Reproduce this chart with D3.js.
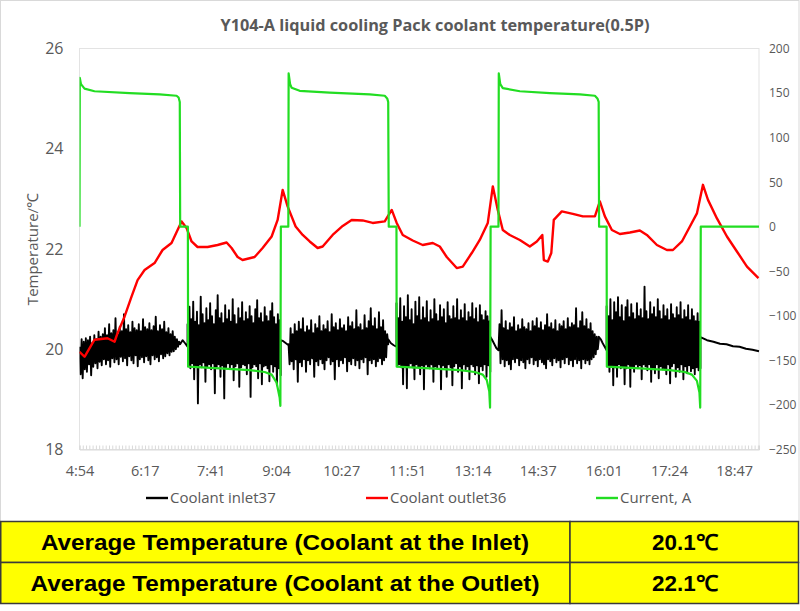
<!DOCTYPE html>
<html><head><meta charset="utf-8">
<script src="https://cdn.jsdelivr.net/npm/d3@7"></script>
<style>body{margin:0;background:#fff}svg{display:block}</style>
</head><body><svg id="c" width="800" height="611"></svg>
<script>
const chartTitle = "Y104-A liquid cooling Pack coolant temperature(0.5P)";
const yAxisTitle = "Temperature/℃";
const xTickLabels = ["4:54","6:17","7:41","9:04","10:27","11:51","13:14","14:37","16:01","17:24","18:47"];
const leftTicks = [18,20,22,24,26];
const rightTicks = [-250,-200,-150,-100,-50,0,50,100,150,200];
const seriesNames = ["Coolant inlet37","Coolant outlet36","Current, A"];
const timeStart = 294, timeEnd = 1158.6; // minutes of day

// inlet temperature: segment boundaries (minutes) and readings per segment
const inletBreaks = [294, 422, 431.5, 550, 560, 686.8, 697.3, 816.7, 827.1, 954.8, 964.7, 1084.1, 1158.6];
const inletCharge1 = [20.05,19.50,20.20,19.42,20.15,19.60,20.22,19.55,20.18,19.70,20.25,19.48,20.12,19.65,20.28,19.72,20.20,19.62,20.35,19.75,
20.25,19.68,20.30,19.80,20.42,19.70,20.28,19.78,20.50,19.65,20.32,19.82,20.38,19.74,20.62,19.80,20.30,19.70,20.45,19.85,
20.36,19.76,20.70,19.82,20.40,19.68,20.48,19.86,20.34,19.78,20.55,19.72,20.42,19.88,20.38,19.66,20.50,19.80,20.36,19.84,
20.60,19.74,20.44,19.86,20.40,19.78,20.52,19.70,20.38,19.88,20.46,19.80,20.65,19.84,20.36,19.76,20.48,19.90,20.40,19.82,
20.55,19.86,20.34,19.92,20.42,19.88,20.30,19.95,20.36,19.96,20.25,20.00,20.20,20.05,20.15,20.10];
const inletRest1 = [20.10,20.18,20.12,20.05];
const inletDischarge1 = [20.50,19.68,20.85,19.62,20.60,19.72,20.95,19.40,20.55,19.66,20.75,18.92,20.48,19.70,21.05,19.64,20.70,19.74,20.52,19.35,
20.82,19.66,20.58,19.70,20.92,19.60,20.66,19.72,20.50,19.12,20.78,19.65,21.08,19.70,20.62,19.45,20.72,19.68,20.52,19.02,
20.88,19.64,20.60,19.72,20.78,19.62,20.55,19.70,21.00,19.38,20.68,19.66,20.50,19.72,20.82,19.25,20.62,19.64,20.94,19.70,
20.56,19.68,20.74,19.50,20.60,19.72,20.86,19.05,20.66,19.64,20.52,19.70,20.80,19.66,20.98,19.42,20.62,19.72,20.72,19.30,
20.54,19.66,20.84,19.68,20.66,19.62,20.56,19.36,20.76,19.70,20.92,19.55,20.64,19.66,20.50,19.28,20.70,19.62,20.58,19.48];
const inletRest2 = [20.18,20.16,20.12,20.08];
const inletCharge2 = [20.10,19.70,20.42,19.76,20.30,19.60,20.50,19.80,20.36,19.35,20.55,19.74,20.40,19.66,20.62,19.80,20.34,19.55,20.46,19.78,
20.38,19.70,20.58,19.82,20.32,19.45,20.50,19.76,20.42,19.68,20.66,19.80,20.36,19.72,20.48,19.60,20.40,19.78,20.56,19.84,
20.34,19.70,20.70,19.76,20.44,19.40,20.52,19.80,20.38,19.66,20.60,19.78,20.42,19.72,20.48,19.84,20.36,19.56,20.64,19.76,
20.46,19.70,20.54,19.82,20.40,19.68,20.78,19.78,20.44,19.62,20.50,19.80,20.38,19.74,20.68,19.84,20.42,19.50,20.56,19.78,
20.82,19.72,20.46,19.80,20.62,19.66,20.40,19.76,20.74,19.82,20.44,19.70,20.58,19.78,20.36,19.84,20.30,20.10];
const inletRest3 = [20.20,20.12,20.08,20.05];
const inletDischarge2 = [20.92,19.66,20.62,19.70,21.02,19.64,20.55,19.30,20.86,19.68,20.64,19.22,21.08,19.66,20.58,19.72,20.80,19.64,20.50,19.40,
20.95,19.70,20.66,19.64,21.04,19.50,20.58,19.68,20.84,19.20,20.62,19.70,20.96,19.66,20.54,19.62,20.78,19.70,20.60,19.35,
21.00,19.66,20.70,19.62,20.56,19.70,20.88,19.20,20.64,19.68,20.80,19.64,20.52,19.45,20.94,19.70,20.66,19.64,20.60,19.28,
20.86,19.66,20.62,19.72,21.00,19.55,20.58,19.66,20.78,19.22,20.62,19.70,20.90,19.60,20.56,19.66,20.74,19.40,20.64,19.70,
20.92,19.66,20.60,19.50,20.82,19.68,20.54,19.32,20.88,19.66,20.68,19.58,20.58,19.70,20.76,19.45,20.66,19.68,20.56,19.55];
const inletRest4 = [20.25,20.18,20.10,20.02,19.98];
const inletCharge3 = [19.98,20.50,19.72,20.78,19.80,20.42,19.66,20.56,19.78,20.38,19.70,20.52,19.60,20.44,19.80,20.64,19.74,20.36,19.82,20.48,
19.68,20.40,19.78,20.60,19.74,20.44,19.62,20.40,19.80,20.52,19.72,20.36,19.84,20.56,19.70,20.46,19.78,20.62,19.66,20.42,
19.80,20.54,19.74,20.38,19.70,20.48,19.62,20.70,19.80,20.44,19.76,20.52,19.68,20.40,19.82,20.58,19.74,20.36,19.78,20.50,
19.64,20.46,19.80,20.56,19.72,20.40,19.84,20.62,19.70,20.44,19.78,20.52,19.66,20.48,19.80,20.82,19.72,20.42,19.78,20.56,
19.62,20.74,19.80,20.46,19.72,20.60,19.78,20.40,19.70,20.52,19.80,20.36,19.84,20.30,19.90,20.25,20.00,20.20];
const inletRest5 = [20.25,20.20,20.12,20.05,19.98];
const inletDischarge3 = [20.86,19.66,20.66,19.55,21.00,19.68,20.58,19.28,20.94,19.64,20.74,19.45,21.04,19.70,20.64,19.62,20.88,19.66,20.56,19.30,
20.84,19.62,20.98,19.70,20.64,19.25,20.90,19.66,20.72,19.55,20.60,19.70,20.92,19.62,20.66,19.68,20.80,19.40,20.62,19.70,
21.25,19.66,20.76,19.58,20.60,19.70,20.94,19.35,20.70,19.64,20.84,19.52,20.64,19.70,21.00,19.42,20.76,19.66,20.60,19.60,
20.88,19.62,20.66,19.50,20.80,19.70,20.58,19.32,20.90,19.66,20.70,19.72,20.62,19.45,20.84,19.64,20.68,19.55,20.94,19.70,
20.60,19.40,20.78,19.66,20.64,19.52,20.88,19.68,20.58,19.56,20.80,19.62,20.66,19.50,20.56,19.64,20.72,19.58,20.55,19.62];
const inletTail = [20.24,20.18,20.15,20.11,20.10,20.06,20.05,20.01,19.99,19.96];
const inletSegments = [inletCharge1,inletRest1,inletDischarge1,inletRest2,inletCharge2,inletRest3,inletDischarge2,inletRest4,inletCharge3,inletRest5,inletDischarge3,inletTail];

// outlet temperature
const outletTime = [294.0,300.4,313.1,329.7,338.6,342.4,351.3,360.2,367.9,376.8,389.5,399.7,411.1,418.8,423.9,430.2,436.6,444.2,457.0,469.7,481.2,487.5,495.2,501.5,516.8,527.0,538.5,546.1,552.5,558.8,569.0,578.0,586.9,597.0,603.4,616.1,628.9,640.3,654.3,667.1,682.4,691.3,697.6,705.3,718.0,730.7,743.5,752.4,761.3,774.0,781.7,793.1,803.3,813.5,819.9,826.2,832.6,841.5,854.3,867.0,875.9,882.9,884.8,889.9,894.3,897.5,907.7,921.7,934.5,949.8,956.1,962.5,971.4,981.6,994.3,1007.0,1015.9,1028.7,1041.4,1049.1,1060.5,1070.7,1079.6,1087.3,1093.7,1105.1,1117.8,1130.5,1143.3,1157.9];
const outletTemp = [19.95,19.85,20.19,20.22,20.15,20.32,20.65,21.05,21.38,21.58,21.72,21.98,22.12,22.38,22.55,22.42,22.15,22.04,22.04,22.08,22.13,22.02,21.84,21.78,21.84,22.02,22.25,22.58,23.18,22.85,22.45,22.28,22.15,22.02,22.05,22.28,22.46,22.58,22.57,22.52,22.55,22.78,22.52,22.28,22.17,22.08,22.12,22.05,21.84,21.62,21.65,21.92,22.18,22.52,23.25,22.78,22.38,22.28,22.18,22.05,22.15,22.28,21.78,21.75,21.92,22.58,22.75,22.70,22.65,22.65,22.95,22.65,22.38,22.30,22.33,22.37,22.28,22.08,21.98,21.98,22.15,22.45,22.71,23.28,22.98,22.61,22.25,21.95,21.65,21.42];

// current (A)
const currentTime = [294.0,294.4,295.9,300.4,313.1,357.7,395.9,417.5,420.1,421.6,422.1,431.9,432.2,472.3,510.5,529.6,538.5,544.8,548.7,549.6,550.2,559.7,560.1,562.0,563.9,574.1,612.3,663.3,682.4,685.5,686.8,687.5,697.3,697.6,739.7,777.9,797.0,807.1,812.2,815.4,816.4,817.1,827.1,827.5,829.4,832.6,854.3,892.5,930.7,949.8,953.0,954.6,955.1,964.7,965.0,1007.0,1045.2,1064.3,1073.2,1079.6,1082.8,1083.8,1084.5,1158.6];
const currentAmp = [0,167,160,155,152,150,148.5,147,145,140,0,0,-157,-159,-161,-163,-166,-175,-192,-201,0,0,172,160,156,152.5,150.5,148.5,147,144,140,0,0,-157,-159,-161,-163,-166,-172,-185,-203,0,0,172,160,155.5,152,150,148.5,147,144,140,0,0,-157,-159,-161,-163,-166,-173,-186,-203,0,0];

const tableLabels = ["Average Temperature (Coolant at the Inlet)","Average Temperature (Coolant at the Outlet)"];
const tableValues = ["20.1℃","22.1℃"];

const svg = d3.select("#c");
const L = 79.5, R = 759, T = 48.5, B = 449.5;
const x = d3.scaleLinear().domain([timeStart, timeEnd]).range([L, R]);
const yL = d3.scaleLinear().domain([18, 26]).range([B, T]);
const yR = d3.scaleLinear().domain([-250, 200]).range([B, T]);
const font = "'Open Sans', 'Segoe UI', sans-serif";
const grey = "#595959";

svg.append("rect").attr("x",0.5).attr("y",0.5).attr("width",798.5).attr("height",521).attr("fill","#fff").attr("stroke","#d9d9d9");

svg.append("text").attr("x",435).attr("y",31).attr("text-anchor","middle")
  .attr("font-family",font).attr("font-weight","bold").attr("font-size",16.3).attr("fill",grey).text(chartTitle);

svg.append("rect").attr("x",L).attr("y",T).attr("width",R-L).attr("height",B-T).attr("fill","none").attr("stroke","#e3e3e3");

// x axis
const labelMinutes = xTickLabels.map(s => { const [h,m] = s.split(":").map(Number); return h*60+m; });
const minorTicks = d3.range(timeStart, timeEnd, 83.4/20);
svg.append("g").attr("transform",`translate(0,${B})`)
  .call(d3.axisBottom(x).tickValues(minorTicks).tickSize(-4).tickFormat(""))
  .call(g => { g.select(".domain").attr("stroke","#d9d9d9"); g.selectAll(".tick line").attr("stroke","#d9d9d9"); });
svg.append("g").attr("transform",`translate(0,${B})`)
  .call(d3.axisBottom(x).tickValues(labelMinutes).tickFormat((d,i)=>xTickLabels[i]).tickSize(0).tickPadding(16))
  .call(g => { g.select(".domain").remove(); g.selectAll("text").attr("font-family",font).attr("font-size",14.5).attr("fill",grey); });

// left axis
svg.append("g").attr("transform",`translate(${L},0)`)
  .call(d3.axisLeft(yL).tickValues(leftTicks).tickSize(0).tickPadding(16))
  .call(g => { g.select(".domain").remove(); g.selectAll("text").attr("font-family",font).attr("font-size",16).attr("fill",grey); });
// right axis
svg.append("g").attr("transform",`translate(${R},0)`)
  .call(d3.axisRight(yR).tickValues(rightTicks).tickSize(0).tickPadding(10))
  .call(g => { g.select(".domain").remove(); g.selectAll("text").attr("font-family",font).attr("font-size",12).attr("fill",grey); });

svg.append("text").attr("transform",`translate(33,${(T+B)/2}) rotate(-90)`).attr("text-anchor","middle")
  .attr("dy","0.35em").attr("font-family",font).attr("font-size",15).attr("fill",grey).text(yAxisTitle);

svg.append("clipPath").attr("id","pc").append("rect").attr("x",L).attr("y",T-5).attr("width",R-L+1).attr("height",B-T+10);
const plot = svg.append("g").attr("clip-path","url(#pc)");

// inlet
const inletPts = [];
inletSegments.forEach((seg,k) => {
  const a = inletBreaks[k], b = inletBreaks[k+1];
  seg.forEach((v,j) => inletPts.push([a + j*(b-a)/(seg.length-1), v]));
});
plot.append("path").datum(inletPts).attr("fill","none").attr("stroke","#000").attr("stroke-width",1.9)
  .attr("stroke-linejoin","round")
  .attr("d", d3.line().x(d=>x(d[0])).y(d=>yL(d[1])));
// outlet
plot.append("path").datum(outletTime.map((t,i)=>[t,outletTemp[i]])).attr("fill","none").attr("stroke","#ff0000").attr("stroke-width",2.4)
  .attr("stroke-linejoin","round")
  .attr("d", d3.line().x(d=>x(d[0])).y(d=>yL(d[1])));
// current
plot.append("path").datum(currentTime.map((t,i)=>[t,currentAmp[i]])).attr("fill","none").attr("stroke","#22dd22").attr("stroke-width",2.2)
  .attr("stroke-linejoin","round")
  .attr("d", d3.line().x(d=>x(d[0])).y(d=>yR(d[1])));

// legend
const legendX = [146, 366, 596];
const legendColors = ["#000","#ff0000","#22dd22"];
seriesNames.forEach((n,i) => {
  svg.append("line").attr("x1",legendX[i]).attr("x2",legendX[i]+22).attr("y1",498).attr("y2",498)
    .attr("stroke",legendColors[i]).attr("stroke-width",2.4);
  svg.append("text").attr("x",legendX[i]+24).attr("y",498).attr("dy","0.35em")
    .attr("font-family",font).attr("font-size",15).attr("fill",grey).text(n);
});

// table
const rowY = [521.5, 562.5], rowH = 41, colX = [0.75, 570, 798.5];
const tfont = "'Liberation Sans Narrow', 'Liberation Sans', Arial, sans-serif";
const labelW = [488, 509];
tableLabels.forEach((lab,i) => {
  svg.append("rect").attr("x",colX[0]).attr("y",rowY[i]).attr("width",colX[1]-colX[0]).attr("height",rowH)
    .attr("fill","#ffff00").attr("stroke","#3a3a3a").attr("stroke-width",1.5);
  svg.append("rect").attr("x",colX[1]).attr("y",rowY[i]).attr("width",colX[2]-colX[1]).attr("height",rowH)
    .attr("fill","#ffff00").attr("stroke","#3a3a3a").attr("stroke-width",1.5);
  svg.append("text").attr("x",285).attr("y",rowY[i]+rowH/2).attr("dy","0.36em").attr("text-anchor","middle")
    .attr("font-family",tfont).attr("font-weight","bold").attr("font-size",22).attr("fill","#000")
    .attr("textLength",labelW[i]).attr("lengthAdjust","spacingAndGlyphs").text(lab);
  svg.append("text").attr("x",685).attr("y",rowY[i]+rowH/2).attr("dy","0.36em").attr("text-anchor","middle")
    .attr("font-family",tfont).attr("font-weight","bold").attr("font-size",22).attr("fill","#000")
    .attr("textLength",66).attr("lengthAdjust","spacingAndGlyphs").text(tableValues[i]);
});
</script></body></html>
